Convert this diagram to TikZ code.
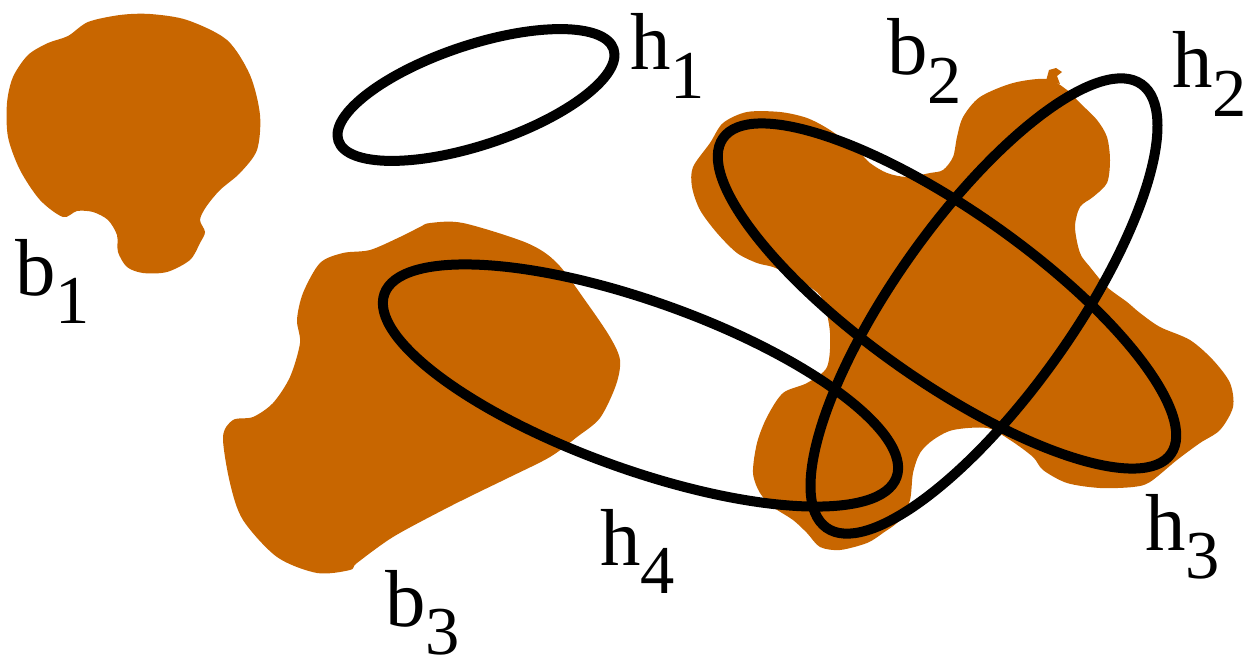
\documentclass[tikz,border=0pt]{standalone}
\usepackage{fontspec}
\setmainfont{Liberation Serif}
\usetikzlibrary{positioning}
\definecolor{blobbrown}{RGB}{200,102,0}
\newcommand{\sublbl}[2]{#1\raisebox{-16pt}{\fontsize{39}{39}\selectfont #2}}

\begin{document}
\begin{tikzpicture}[x=0.02cm, y=-0.02cm,
  blob/.style={fill=blobbrown},
  holeline/.style={draw=black, line width=0.2cm},
  lbl/.style={anchor=base west, inner sep=0pt, font=\fontsize{46}{46}\selectfont}]
  \useasboundingbox (0,0) rectangle (1255,669);

  % blobs
  \fill[blob] plot[smooth cycle] coordinates {(88,22) (120,15) (150,14) (187,20) (227,40) (250,75) (260,115) (257,150) (240,173) (220,190) (206,207) (200,220) (205,232) (200,243) (190,260) (167,272) (143,273) (127,267) (118,252) (117,235) (108,220) (93,212) (77,211) (63,217) (40,200) (20,170) (8,137) (7,103) (13,77) (28,55) (48,43) (68,36)};
  \fill[blob] plot[smooth cycle] coordinates {(723,123) (747,112) (780,112) (807,118) (830,130) (857,150) (870,163) (887,173) (907,177) (930,173) (943,170) (953,157) (957,137) (963,117) (980,97) (1013,83) (1047,79) (1067,90) (1080,103) (1097,120) (1107,137) (1110,160) (1107,183) (1093,197) (1080,207) (1075,227) (1080,253) (1090,267) (1107,287) (1127,302) (1140,313) (1160,327) (1190,340) (1213,360) (1230,383) (1233,407) (1220,430) (1200,443) (1177,460) (1150,482) (1133,487) (1100,488) (1067,483) (1043,470) (1033,457) (1010,440) (987,428) (953,430) (933,440) (920,453) (913,473) (910,500) (900,520) (883,533) (867,543) (840,550) (820,547) (807,533) (793,520) (773,507) (760,493) (753,473) (757,443) (767,417) (783,393) (807,383) (827,367) (830,333) (823,300) (810,287) (790,275) (773,267) (757,263) (737,253) (717,233) (700,210) (692,187) (693,167) (710,143)};
  \fill[blob] (1046,81) -- (1049,70) -- (1056,68) -- (1062,72) -- (1057,76) -- (1060,84) -- cycle;
  \fill[blob] plot[smooth cycle] coordinates {(430,223) (463,223) (527,243) (557,263) (587,303) (610,337) (620,360) (616,385) (600,418) (577,437) (550,457) (510,477) (477,493) (443,510) (393,537) (357,563) (350,570) (317,573) (277,557) (243,520) (230,483) (223,437) (233,420) (253,417) (273,403) (290,377) (300,343) (297,320) (303,293) (320,263) (343,253) (370,250) (400,237) (420,227)};

  % holes
  \draw[holeline] (476,95) ellipse [x radius=145, y radius=50, rotate=18.4];
  \draw[holeline] (984,306) ellipse [x radius=272, y radius=89, rotate=54.6];
  \draw[holeline] (947,296) ellipse [x radius=274, y radius=85, rotate=-35.2];
  \draw[holeline] (640.5,385.5) ellipse [x radius=272, y radius=84, rotate=-19.7];

  % labels
  \node[lbl] (b1) at (15,295) {\sublbl{b}{1}};
  \node[lbl] (h1) at (630,70) {\sublbl{h}{1}};
  \node[lbl] (b2) at (887,75) {\sublbl{b}{2}};
  \node[lbl] (h2) at (1172,88) {\sublbl{h}{2}};
  \node[lbl] (h3) at (1145,550) {\sublbl{h}{3}};
  \node[lbl] (h4) at (600,565) {\sublbl{h}{4}};
  \node[lbl] (b3) at (385,626) {\sublbl{b}{3}};
\end{tikzpicture}
\end{document}
